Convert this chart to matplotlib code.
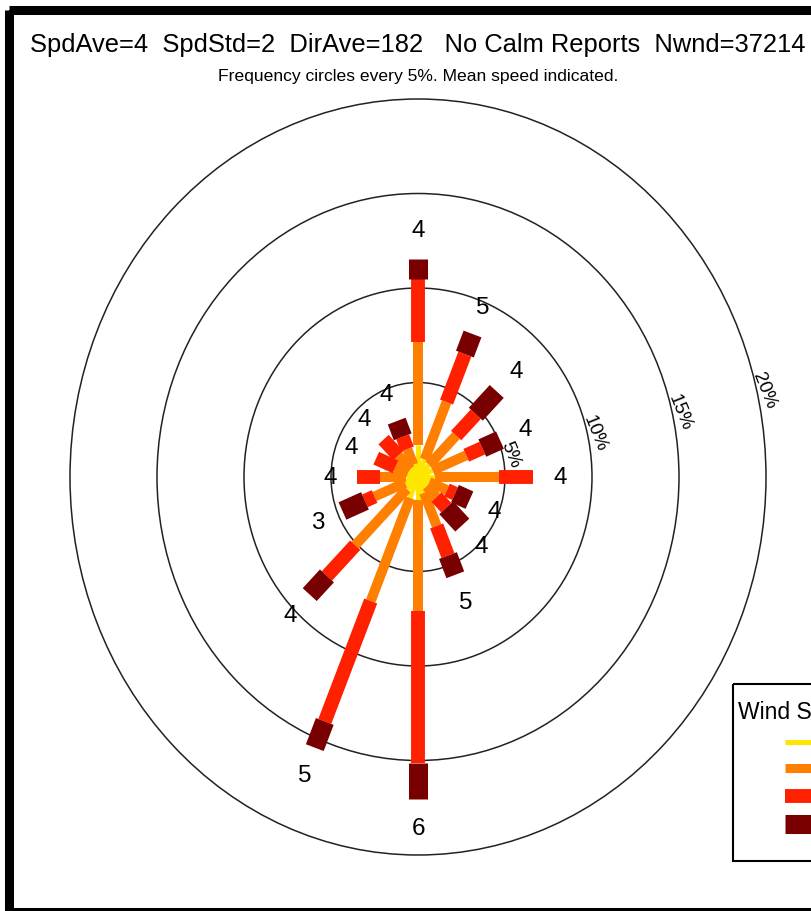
import numpy as np
import matplotlib.pyplot as plt
from matplotlib.patches import Circle, Rectangle

plt.rcParams['font.family'] = ['Liberation Sans', 'DejaVu Sans']

# petal directions (deg clockwise from north) and cumulative frequency (%) per speed class
directions = np.arange(16) * 22.5
cum_yellow = [1.7, 1.0, 0.9, 0.9, 1.0, 0.7, 0.7, 0.9, 1.2, 1.2, 0.9, 0.8, 0.7, 0.6, 0.6, 0.7]
cum_orange = [7.14, 4.29, 3.1, 3.0, 4.66, 1.8, 1.5, 2.8, 7.09, 7.1, 5.1, 2.7, 2.18, 1.4, 1.6, 1.6]
cum_red = [10.48, 7.04, 4.7, 4.0, 6.61, 2.3, 2.3, 4.5, 15.13, 14.0, 7.4, 3.3, 3.5, 2.6, 2.8, 2.3]
cum_darkred = [11.53, 8.19, 6.4, 5.1, 6.61, 3.2, 3.6, 5.6, 17.04, 15.5, 8.8, 4.7, 3.5, 2.6, 2.8, 3.2]
mean_speed = [4, 5, 4, 4, 4, 4, 4, 5, 6, 5, 4, 3, 4, 4, 4, 4]
rings = [5, 10, 15, 20]

class_colors = ['#FFE600', '#FF8000', '#FF2000', '#780000']
class_widths = [3.6, 7.2, 10.0, 13.7]

W, H = 811, 912
fig = plt.figure(figsize=(W / 100, H / 100), dpi=100)

# rose axes, units of percent
ax = fig.add_axes([0, 0, 1, 1])
ax.set_xlim(-418 / 17.4, (W - 418) / 17.4)
ax.set_ylim(-(H - 478) / 18.9, 478 / 18.9)
ax.axis('off')

for r in rings:
    ax.add_patch(Circle((0, 0), r, fill=False, ec='#222222', lw=1.1, zorder=1))
    a = np.deg2rad(77)
    ax.text((r + 0.45) * np.sin(a), (r + 0.45) * np.cos(a), '%d%%' % r,
            rotation=-68, ha='center', va='center', fontsize=13.5, zorder=1)

th = np.deg2rad(directions)
s, c = np.sin(th), np.cos(th)
cums = [cum_yellow, cum_orange, cum_red, cum_darkred]

for k in range(4):
    for i in range(16):
        r0 = 0 if k == 0 else cums[k - 1][i]
        r1 = cums[k][i]
        if r1 > r0:
            ax.plot([r0 * s[i], r1 * s[i]], [r0 * c[i], r1 * c[i]],
                    color=class_colors[k], lw=class_widths[k],
                    solid_capstyle='butt', zorder=2 + k)

for i in range(16):
    rl = cum_darkred[i] + 1.55
    ax.text(rl * s[i], rl * c[i], str(mean_speed[i]), ha='center', va='center',
            fontsize=17.5, zorder=7)

# pixel overlay for frame, titles and legend
ov = fig.add_axes([0, 0, 1, 1])
ov.set_xlim(0, W)
ov.set_ylim(H, 0)
ov.axis('off')

ov.add_patch(Rectangle((9, 11), 900, 902, fill=False, ec='black', lw=6.5, clip_on=False))

ov.text(30, 52, 'SpdAve=4  SpdStd=2  DirAve=182   No Calm Reports  Nwnd=37214',
        ha='left', va='baseline', fontsize=18.4)
ov.text(418, 81, 'Frequency circles every 5%. Mean speed indicated.',
        ha='center', va='baseline', fontsize=12.6)

ov.add_patch(Rectangle((733, 685), 200, 177, fill=False, ec='black', lw=1.5))
ov.text(738, 713, 'Wind Speed', ha='left', va='center', fontsize=16.5)
for y, col, lw in zip([743, 769, 797, 825], class_colors, [3.6, 6.5, 10.0, 13.7]):
    ov.plot([785, 860], [y, y], color=col, lw=lw, solid_capstyle='butt')

fig.savefig('out.png', dpi=100)
